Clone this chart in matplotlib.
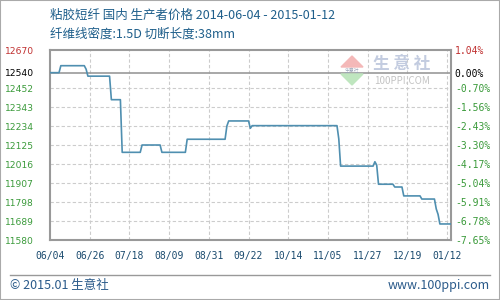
import numpy as np
import pandas as pd
import matplotlib
matplotlib.use("Agg")
import matplotlib.pyplot as plt
import matplotlib.dates as mdates
from matplotlib.patches import Polygon, Rectangle
from matplotlib.lines import Line2D

plt.rcParams['font.family'] = ['Noto Sans CJK SC', 'DejaVu Sans']

# data (day offset from 2014-06-04, price)
start = pd.Timestamp('2014-06-04')
days = [0, 5, 6, 19, 20, 21, 33, 34, 39, 40, 50, 51, 61, 62, 75, 76, 97, 98, 99,
        110, 111, 112, 159, 160, 161, 179, 180, 181, 182, 190, 191, 195, 196,
        205, 206, 213, 214, 215, 216, 222]
prices = [12540, 12540, 12580, 12580, 12560, 12520, 12520, 12385, 12385, 12083,
          12083, 12125, 12125, 12083, 12083, 12158, 12158, 12234, 12263, 12263,
          12221, 12236, 12236, 12160, 12004, 12004, 12029, 12010, 11900, 11900,
          11884, 11884, 11833, 11833, 11815, 11815, 11758, 11727, 11672, 11672]

base = 12540
y_ticks = [11580, 11689, 11798, 11907, 12016, 12125, 12234, 12343, 12452, 12540, 12670]
pct_labels = ['-7.65%', '-6.78%', '-5.91%', '-5.04%', '-4.17%', '-3.30%', '-2.43%',
              '-1.56%', '-0.70%', '0.00%', '1.04%']
x_tick_days = [0, 22, 44, 66, 88, 110, 132, 154, 176, 198, 220]
x_labels = ['06/04', '06/26', '07/18', '08/09', '08/31', '09/22', '10/14',
            '11/05', '11/27', '12/19', '01/12']

dates = [start + pd.Timedelta(days=d) for d in days]
x_ticks = [start + pd.Timedelta(days=d) for d in x_tick_days]

fig = plt.figure(figsize=(5, 3), dpi=100)
fig.patch.set_facecolor('white')
ax = fig.add_axes([0.1, 0.2, 0.8014, 0.6333])

ax.plot(dates, prices, color='#4f8fb0', linewidth=1.2, zorder=3)
ax.axhline(base, color='#999999', linewidth=1.2, zorder=2)

ax.set_xlim(start, start + pd.Timedelta(days=222))
ax.set_ylim(11580, 12670)

ax.set_xticks(x_ticks)
ax.set_xticklabels(x_labels, family='DejaVu Sans Mono', fontsize=7, color='#1a4a6e')
ax.set_yticks(y_ticks)
ax.set_yticklabels([str(v) for v in y_ticks], family='DejaVu Sans', fontsize=6.6)

def tick_color(v):
    if v > base:
        return '#c03030'
    if v == base:
        return '#000000'
    return '#3a9a3a'

for lab, v in zip(ax.get_yticklabels(), y_ticks):
    lab.set_color(tick_color(v))

ax.tick_params(axis='y', length=0, pad=11.5)
ax.tick_params(axis='x', length=0, pad=8)

# dashed grid, skipping the edges and the base line
for v in y_ticks:
    if v not in (11580, 12670, base):
        ax.axhline(v, color='#cccccc', linestyle=(0, (3, 2)), linewidth=0.8, zorder=1)
for t in x_ticks[1:]:
    ax.axvline(t, color='#cccccc', linestyle=(0, (3, 2)), linewidth=0.8, zorder=1)

for s in ax.spines.values():
    s.set_color('#999999')
    s.set_linewidth(1.5)

ax2 = ax.twinx()
ax2.set_ylim(ax.get_ylim())
ax2.set_yticks(y_ticks)
ax2.set_yticklabels(pct_labels, family='DejaVu Sans Mono', fontsize=7)
for lab, v in zip(ax2.get_yticklabels(), y_ticks):
    lab.set_color(tick_color(v))
ax2.tick_params(axis='y', length=0, pad=3)
for s in ax2.spines.values():
    s.set_visible(False)

# titles
fig.text(0.1, 1 - 15 / 300, '粘胶短纤 国内 生产者价格 2014-06-04 - 2015-01-12',
         fontsize=9, color='#1f5f8b', va='center', ha='left')
fig.text(0.1, 1 - 34 / 300, '纤维线密度:1.5D 切断长度:38mm',
         fontsize=9, color='#1f5f8b', va='center', ha='left')

# logo watermark
def px(x, y):
    return (x / 500, 1 - y / 300)

fig.patches.append(Polygon([px(341, 67), px(363, 67), px(352, 56)], closed=True,
                           transform=fig.transFigure, color='#f4b8b8', zorder=0))
fig.patches.append(Polygon([px(341, 74), px(363, 74), px(352, 85)], closed=True,
                           transform=fig.transFigure, color='#bfe6bf', zorder=0))
fig.text(*px(352, 70.5), '生意社', fontsize=3.5, color='#9aa6b8', ha='center', va='center')
fig.text(*px(402, 64), '生 意 社', fontsize=12, color='#c3cce0', ha='center', va='center',
         fontweight='bold')
fig.text(*px(402, 81), '100PPI.COM', fontsize=7, color='#c4c4c4', ha='center', va='center')

# footer
fig.lines.append(Line2D([10 / 500, 490 / 500], [1 - 275 / 300, 1 - 275 / 300],
                        transform=fig.transFigure, color='#999999', linewidth=1))
fig.text(10 / 500, 1 - 285 / 300, '© 2015.01 生意社', fontsize=9, color='#2a5a8a',
         va='center', ha='left')
fig.text(490 / 500, 1 - 285 / 300, 'www.100ppi.com', fontsize=9, color='#2a5a8a',
         va='center', ha='right')

# outer border
fig.patches.append(Rectangle((0, 0), 1, 1, transform=fig.transFigure, fill=False,
                             edgecolor='#aaaaaa', linewidth=1.5))

fig.savefig('out.png', dpi=100)
